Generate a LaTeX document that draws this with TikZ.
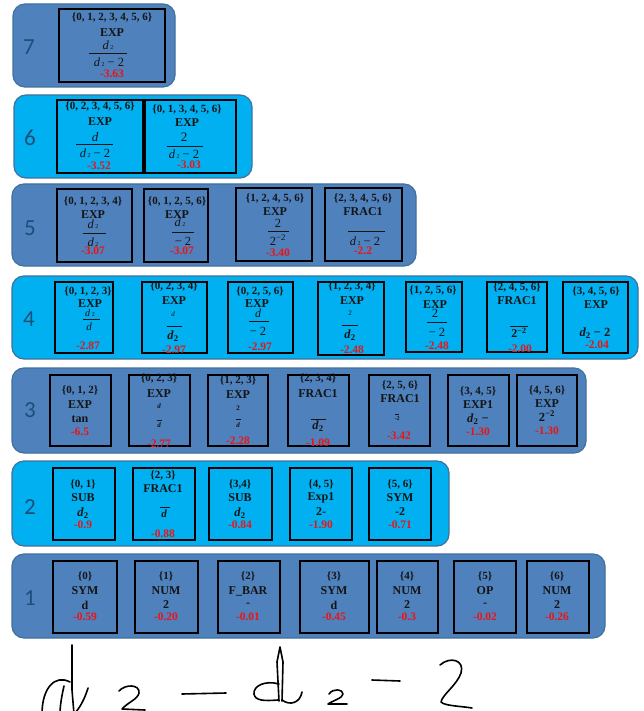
\documentclass[tikz,border=0pt]{standalone}
\usepackage{fontspec}
\setmainfont{Liberation Serif}
\newfontfamily\lblfont{Carlito}
\definecolor{panA}{RGB}{79,129,189}
\definecolor{panB}{RGB}{0,176,240}
\definecolor{panEdge}{RGB}{65,113,156}
\definecolor{lblc}{RGB}{31,78,121}
\definecolor{ink}{RGB}{20,20,20}
\definecolor{redv}{RGB}{235,20,20}
\newcommand\dtwo{\textit{d}\kern1.5pt{\fontsize{6}{6}\selectfont 2}}
\newcommand\dsubb{\textbf{\textit{d}}\textsubscript{\textbf{2}}}
\newcommand\twomm{2\textsuperscript{−2}}
\newcommand\mkpanel[6]{\node[#2,minimum width={(#5-#3)*1pt},minimum height={(#6-#4)*1pt}] (#1) at ({(#3+#5)/2},{(#4+#6)/2}) {};}
\newcommand\mkcell[5]{\node[cell,minimum width={(#4-#2)*1pt},minimum height={(#5-#3)*1pt}] (#1) at ({(#2+#4)/2},{(#3+#5)/2}) {};}
\tikzset{
  panelA/.style={draw=panEdge,line width=1.2pt,fill=panA,rounded corners=12pt,inner sep=0pt},
  panelB/.style={draw=panEdge,line width=1.2pt,fill=panB,rounded corners=12pt,inner sep=0pt},
  cell/.style={draw=black,line width=1.3pt,inner sep=0pt},
  setl/.style={font=\bfseries\fontsize{11}{12}\selectfont,inner sep=0pt,text=ink},
  opl/.style={font=\bfseries\fontsize{12}{13}\selectfont,inner sep=0pt,text=ink},
  redl/.style={font=\bfseries\fontsize{11.5}{13}\selectfont,inner sep=0pt,text=redv},
  fracl/.style={font=\fontsize{12.5}{14}\selectfont,inner sep=0pt,text=ink},
  smalll/.style={font=\fontsize{7}{8}\selectfont,inner sep=0pt,text=ink},
  lbl/.style={font=\lblfont\fontsize{23}{26}\selectfont,inner sep=0pt,text=lblc},
  fline/.style={line width=0.7pt,draw=ink},
  hand/.style={line width=1.6pt,draw=black,line cap=round,line join=round}
}
\begin{document}
\begin{tikzpicture}[x=1pt,y=-1pt]
\useasboundingbox[fill=white] (0,0) rectangle (643,711);
% ---------- Row 7
\mkpanel{p7}{panelA}{13}{4}{175}{87}
\node[lbl] (l7) at (29,47) {7};
\mkcell{c71}{59}{9}{165}{82}
\node[setl] (s71) at (112,18) {\{0, 1, 2, 3, 4, 5, 6\}};
\node[opl] (o71) at (112,33) {EXP};
\node[fracl] (n71) at (108,45) {\dtwo};
\draw[fline] (89,53) -- (127,53);
\node[fracl] (d71) at (109,62) {\dtwo\ − 2};
\node[redl] (r71) at (112,74) {-3.63};
% ---------- Row 6
\mkpanel{p6}{panelB}{14}{95}{252}{178}
\node[lbl] (l6) at (30,138) {6};
\mkcell{c61}{57}{100}{143}{173}
\node[setl] (s61) at (100,107) {\{0, 2, 3, 4, 5, 6\}};
\node[opl] (o61) at (100,122) {EXP};
\node[fracl,font=\itshape\fontsize{13}{14}\selectfont] (n61) at (95,137) {d};
\draw[fline] (76,144) -- (113,144);
\node[fracl] (d61) at (95,153) {\dtwo\ − 2};
\node[redl] (r61) at (99,166) {-3.52};
\mkcell{c62}{145}{100}{236}{173}
\node[setl] (s62) at (187,110) {\{0, 1, 3, 4, 5, 6\}};
\node[opl] (o62) at (187,123) {EXP};
\node[fracl,font=\fontsize{13}{14}\selectfont] (n62) at (184,137) {2};
\draw[fline] (167,146) -- (203,146);
\node[fracl] (d62) at (184,154) {\dtwo\ − 2};
\node[redl] (r62) at (189,165) {-3.03};
% ---------- Row 5
\mkpanel{p5}{panelA}{12}{184}{416}{266}
\node[lbl] (l5) at (30,228) {5};
\mkcell{c51}{57}{189}{132}{262}
\node[setl] (s51) at (93,202) {\{0, 1, 2, 3, 4\}};
\node[opl] (o51) at (93,215) {EXP};
\node[fracl] (n51) at (93,224) {\dtwo};
\draw[fline] (83,233) -- (106,233);
\node[fracl] (d51) at (93,242) {\dtwo};
\node[redl] (r51) at (93,251) {-3.07};
\mkcell{c52}{144}{189}{208}{262}
\node[setl] (s52) at (177,202) {\{0, 1, 2, 5, 6\}};
\node[opl] (o52) at (177,215) {EXP};
\node[fracl] (n52) at (180,222) {\dtwo};
\draw[fline] (172,232) -- (194,232);
\node[fracl] (d52) at (183,241) {− 2};
\node[redl] (r52) at (182,251) {-3.07};
\mkcell{c53}{236}{188}{312}{261}
\node[setl] (s53) at (275,199) {\{1, 2, 4, 5, 6\}};
\node[opl] (o53) at (275,212) {EXP};
\node[fracl] (n53) at (278,223) {2};
\draw[fline] (268,231) -- (289,231);
\node[fracl] (d53) at (278,240) {\twomm};
\node[redl] (r53) at (278,253) {-3.40};
\mkcell{c54}{325}{188}{402}{261}
\node[setl] (s54) at (363,199) {\{2, 3, 4, 5, 6\}};
\node[opl] (o54) at (363,212) {FRAC1};
\draw[fline] (348,231) -- (385,231);
\node[fracl] (d54) at (365,241) {\dtwo\ − 2};
\node[redl] (r54) at (363,251) {-2.2};
% ---------- Row 4
\mkpanel{p4}{panelB}{12}{276}{638}{359}
\node[lbl] (l4) at (29,319) {4};
\mkcell{c41}{55}{282}{113}{353}
\node[setl] (s41) at (88,292) {\{0, 1, 2, 3\}};
\node[opl] (o41) at (90,304) {EXP};
\node[fracl,font=\fontsize{10}{11}\selectfont] (n41) at (90,313) {\dtwo};
\draw[fline] (83,319) -- (100,319);
\node[fracl,font=\itshape\fontsize{11}{12}\selectfont] (d41) at (89,327) {d};
\node[redl] (r41) at (88,346) {-2.87};
\mkcell{c42}{142}{282}{207}{353}
\node[setl] (s42) at (174,287) {\{0, 2, 3, 4\}};
\node[opl] (o42) at (174,301) {EXP};
\node[smalll,font=\itshape\fontsize{7}{8}\selectfont] (n42) at (173,314) {d};
\draw[fline] (167,326) -- (182,326);
\node[fracl] (d42) at (173,336) {\dsubb};
\node[redl] (r42) at (174,350) {-2.97};
\mkcell{c43}{228}{282}{293}{353}
\node[setl] (s43) at (260,292) {\{0, 2, 5, 6\}};
\node[opl] (o43) at (257,304) {EXP};
\node[fracl,font=\itshape\fontsize{12}{13}\selectfont] (n43) at (258,313) {d};
\draw[fline] (249,321) -- (269,321);
\node[fracl] (d43) at (258,331) {− 2};
\node[redl] (r43) at (260,347) {-2.97};
\mkcell{c44}{318}{282}{384}{355}
\node[setl] (s44) at (352,287) {\{1, 2, 3, 4\}};
\node[opl] (o44) at (352,301) {EXP};
\node[smalll] (n44) at (350,313) {2};
\draw[fline] (342,325) -- (358,325);
\node[fracl] (d44) at (350,335) {\dsubb};
\node[redl] (r44) at (352,350) {-2.48};
\mkcell{c45}{406}{282}{462}{352}
\node[setl] (s45) at (433,291) {\{1, 2, 5, 6\}};
\node[opl] (o45) at (435,305) {EXP};
\node[fracl] (n45) at (435,313) {2};
\draw[fline] (427,322) -- (447,322);
\node[fracl] (d45) at (437,332) {− 2};
\node[redl] (r45) at (437,346) {-2.48};
\mkcell{c46}{487}{282}{547}{352}
\node[setl] (s46) at (517,288) {\{2, 4, 5, 6\}};
\node[opl] (o46) at (517,301) {FRAC1};
\draw[fline] (510,326) -- (528,326);
\node[opl] (d46) at (519,333) {\twomm};
\node[redl] (r46) at (520,349) {-2.00};
\mkcell{c47}{563}{282}{628}{353}
\node[setl] (s47) at (596,292) {\{3, 4, 5, 6\}};
\node[opl] (o47) at (596,305) {EXP};
\node[fracl] (d47) at (595,333) {\dsubb\ \textbf{− 2}};
\node[redl] (r47) at (597,345) {-2.04};
% ---------- Row 3
\mkpanel{p3}{panelA}{12}{368}{586}{453}
\node[lbl] (l3) at (30,410) {3};
\mkcell{c31}{50}{375}{111}{446}
\node[setl] (s31) at (80,391) {\{0, 1, 2\}};
\node[opl] (o31) at (80,405) {EXP};
\node[opl] (v31) at (80,419) {tan};
\node[redl] (r31) at (80,432) {-6.5};
\mkcell{c32}{129}{375}{190}{446}
\node[setl] (s32) at (159,379) {\{0, 2, 3\}};
\node[opl] (o32) at (159,394) {EXP};
\node[smalll,font=\bfseries\itshape\fontsize{7}{8}\selectfont] (n32) at (159,406) {d};
\draw[fline] (157,420) -- (162,420);
\node[smalll,font=\bfseries\itshape\fontsize{7}{8}\selectfont] (d32) at (159,425) {d};
\node[redl] (r32) at (159,444) {-2.77};
\mkcell{c33}{208}{375}{268}{446}
\node[setl] (s33) at (238,381) {\{1, 2, 3\}};
\node[opl] (o33) at (238,395) {EXP};
\node[smalll,font=\bfseries\fontsize{7}{8}\selectfont] (n33) at (238,408) {2};
\draw[fline] (236,419) -- (241,419);
\node[smalll,font=\bfseries\itshape\fontsize{7}{8}\selectfont] (d33) at (238,425) {d};
\node[redl] (r33) at (238,441) {-2.28};
\mkcell{c34}{288}{375}{349}{446}
\node[setl] (s34) at (318,379) {\{2, 3, 4\}};
\node[opl] (o34) at (318,394) {FRAC1};
\draw[fline] (311,419) -- (326,419);
\node[fracl] (d34) at (318,426) {\dsubb};
\node[redl] (r34) at (318,443) {-1.09};
\mkcell{c35}{369}{375}{430}{446}
\node[setl] (s35) at (400,386) {\{2, 5, 6\}};
\node[opl] (o35) at (400,399) {FRAC1};
\draw[fline] (395,414) -- (399,414);
\node[smalll,font=\bfseries\fontsize{6}{7}\selectfont] (d35) at (397,419) {-2};
\node[redl] (r35) at (399,436) {-3.42};
\mkcell{c36}{448}{375}{509}{446}
\node[setl] (s36) at (478,392) {\{3, 4, 5\}};
\node[opl] (o36) at (478,405) {EXP1};
\node[fracl] (v36) at (478,419) {\dsubb\ \textbf{−}};
\node[redl] (r36) at (478,432) {-1.30};
\mkcell{c37}{517}{375}{577}{446}
\node[setl] (s37) at (547,391) {\{4, 5, 6\}};
\node[opl] (o37) at (547,404) {EXP};
\node[opl,font=\bfseries\fontsize{12.5}{13}\selectfont] (v37) at (547,416) {\twomm};
\node[redl] (r37) at (547,431) {-1.30};
% ---------- Row 2
\mkpanel{p2}{panelB}{12}{461}{449}{546}
\node[lbl] (l2) at (30,507) {2};
\mkcell{c21}{53}{468}{115}{540}
\node[setl] (s21) at (83,485) {\{0, 1\}};
\node[opl] (o21) at (83,498) {SUB};
\node[fracl] (v21) at (83,513) {\dsubb};
\node[redl] (r21) at (83,525) {-0.9};
\mkcell{c22}{133}{468}{195}{540}
\node[setl] (s22) at (163,476) {\{2, 3\}};
\node[opl] (o22) at (163,489) {FRAC1};
\draw[fline] (160,507) -- (170,507);
\node[fracl,font=\bfseries\itshape\fontsize{11}{12}\selectfont] (d22) at (164,514) {d};
\node[redl] (r22) at (163,534) {-0.88};
\mkcell{c23}{209}{468}{272}{540}
\node[setl] (s23) at (240,485) {\{3,4\}};
\node[opl] (o23) at (240,498) {SUB};
\node[fracl] (v23) at (240,513) {\dsubb};
\node[redl] (r23) at (240,525) {-0.84};
\mkcell{c24}{290}{468}{352}{540}
\node[setl] (s24) at (321,485) {\{4, 5\}};
\node[opl] (o24) at (321,498) {Exp1};
\node[opl] (v24) at (321,512) {2-};
\node[redl] (r24) at (321,525) {-1.90};
\mkcell{c25}{369}{468}{431}{540}
\node[setl] (s25) at (400,485) {\{5, 6\}};
\node[opl] (o25) at (400,498) {SYM};
\node[opl] (v25) at (400,512) {-2};
\node[redl] (r25) at (400,525) {-0.71};
% ---------- Row 1
\mkpanel{p1}{panelA}{12}{554}{605}{638}
\node[lbl] (l1) at (30,598) {1};
\mkcell{c11}{53}{561}{117}{633}
\node[setl] (s11) at (85,576) {\{0\}};
\node[opl] (o11) at (85,591) {SYM};
\node[opl] (v11) at (85,605) {d};
\node[redl] (r11) at (85,617) {-0.59};
\mkcell{c12}{135}{561}{198}{633}
\node[setl] (s12) at (166,576) {\{1\}};
\node[opl] (o12) at (166,591) {NUM};
\node[opl] (v12) at (166,605) {2};
\node[redl] (r12) at (166,617) {-0.20};
\mkcell{c13}{218}{561}{280}{633}
\node[setl] (s13) at (248,576) {\{2\}};
\node[opl] (o13) at (248,591) {F\_BAR};
\node[opl] (v13) at (248,605) {-};
\node[redl] (r13) at (248,617) {-0.01};
\mkcell{c14}{300}{561}{369}{633}
\node[setl] (s14) at (334,576) {\{3\}};
\node[opl] (o14) at (334,591) {SYM};
\node[opl] (v14) at (334,605) {d};
\node[redl] (r14) at (334,617) {-0.45};
\mkcell{c15}{377}{561}{438}{633}
\node[setl] (s15) at (407,576) {\{4\}};
\node[opl] (o15) at (407,591) {NUM};
\node[opl] (v15) at (407,605) {2};
\node[redl] (r15) at (407,617) {-0.3};
\mkcell{c16}{454}{561}{516}{633}
\node[setl] (s16) at (485,576) {\{5\}};
\node[opl] (o16) at (485,591) {OP};
\node[opl] (v16) at (485,605) {-};
\node[redl] (r16) at (485,617) {-0.02};
\mkcell{c17}{527}{561}{589}{633}
\node[setl] (s17) at (557,576) {\{6\}};
\node[opl] (o17) at (557,591) {NUM};
\node[opl] (v17) at (557,605) {2};
\node[redl] (r17) at (557,617) {-0.26};
% ---------- Handwriting
\begin{scope}
\clip (0,640) rectangle (643,711);
% d
\draw[hand] (72,645) -- (72,690) -- (74,714);
\draw[hand] (70,682) .. controls (55,674) and (42,688) .. (42,714);
\draw[hand] (64,686) .. controls (62,695) and (60,705) .. (60,714);
\draw[hand] (74,714) .. controls (80,708) and (85,698) .. (88,688);
% 2
\draw[hand] (119,691) .. controls (125,684) and (140,684) .. (139,693) .. controls (138,699) and (127,703) .. (122,709) -- (145,710);
% dash
\draw[hand] (182,694) -- (226,693);
% d
\draw[hand] (279,701) -- (277,662) -- (280,647) -- (283,662) -- (282,701);
\draw[hand] (279,684) .. controls (265,680) and (253,686) .. (254,694) .. controls (255,701) and (265,701) .. (278,700);
\draw[hand] (282,700) .. controls (290,706) and (300,703) .. (302,692);
% 2
\draw[hand] (329,694) .. controls (333,688) and (343,689) .. (343,694) .. controls (343,698) and (332,701) .. (328,704) -- (347,704);
% dash
\draw[hand] (372,680) -- (400,681);
% 2
\draw[hand] (440,665) .. controls (450,656) and (465,660) .. (461,673) .. controls (457,685) and (442,695) .. (441,702) .. controls (445,706) and (460,706) .. (472,708);
\end{scope}
\end{tikzpicture}
\end{document}
